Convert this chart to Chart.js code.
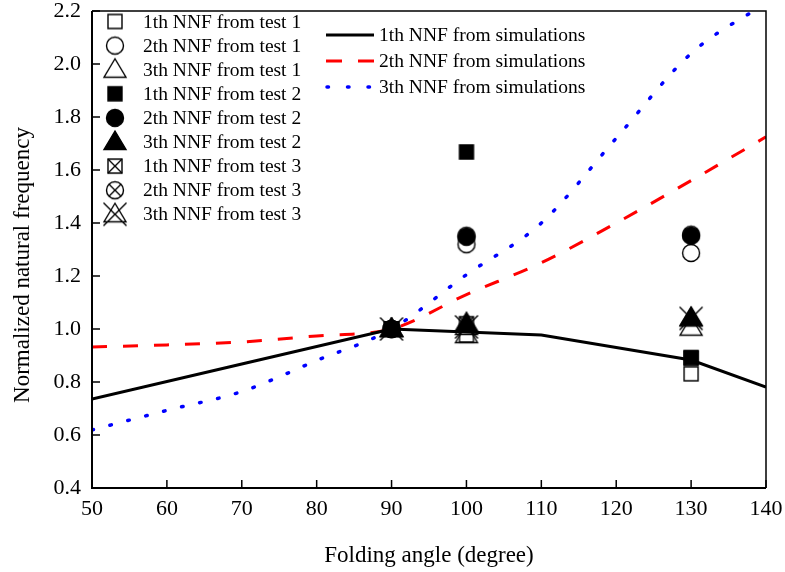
<!DOCTYPE html>
<html>
<head>
<meta charset="utf-8">
<script src="https://cdn.jsdelivr.net/npm/chart.js@4.4.0/dist/chart.umd.min.js"></script>
<style>
  html, body { margin: 0; padding: 0; background: #fff; }
  #wrap { width: 785px; height: 572px; }
</style>
</head>
<body>
<div id="wrap"><canvas id="chart" width="785" height="572"></canvas></div>
<script>
// Normalized natural frequency vs folding angle

const FONT = 'Liberation Serif, "Times New Roman", serif';

// simulation curves
const sim1Angles = [50, 70, 90, 110, 130, 140];
const sim1Values = [0.736, 0.868, 1.0, 0.977, 0.883, 0.781];
const sim2Angles = [50, 60, 70, 80, 90, 100, 110, 120, 130, 140];
const sim2Values = [0.932, 0.94, 0.951, 0.974, 1.0, 1.13, 1.25, 1.40, 1.56, 1.725];
const sim3Angles = [50, 60, 70, 80, 90, 100, 110, 120, 130, 140];
const sim3Values = [0.619, 0.693, 0.764, 0.881, 1.0, 1.205, 1.40, 1.72, 2.04, 2.23];

// test measurements
const testAngles = [90, 100, 130];
const test1First = [1.0, 0.977, 0.831];
const test1Second = [1.0, 1.32, 1.287];
const test1Third = [1.0, 0.977, 1.005];
const test2First = [1.0, 1.668, 0.892];
const test2Second = [1.0, 1.348, 1.352];
const test2Third = [1.0, 1.022, 1.042];
const test3First = [1.0, 1.02, 0.89];
const test3Second = [1.0, 1.352, 1.356];
const test3Third = [1.0, 1.008, 1.04];

const xTicks = [50, 60, 70, 80, 90, 100, 110, 120, 130, 140];
const yTicks = [0.4, 0.6, 0.8, 1.0, 1.2, 1.4, 1.6, 1.8, 2.0, 2.2];

const yTitle = 'Normalized natural frequency';

function toPoints(xs, ys) {
  return xs.map((x, i) => ({ x: x, y: ys[i] }));
}

// draw marker symbols on small canvases, used as pointStyle
function makeMarker(shape, filled, crossed) {
  const c = document.createElement('canvas');
  c.width = 30;
  c.height = 30;
  const g = c.getContext('2d');
  g.translate(15, 15);
  g.strokeStyle = '#000';
  g.fillStyle = '#000';
  g.lineWidth = 1.4;
  g.beginPath();
  if (shape === 'square') {
    g.rect(-7, -7, 14, 14);
  } else if (shape === 'circle') {
    g.arc(0, 0, 8.5, 0, Math.PI * 2);
  } else {
    g.moveTo(0, -11);
    g.lineTo(11, 7.5);
    g.lineTo(-11, 7.5);
    g.closePath();
  }
  if (filled) g.fill();
  g.stroke();
  if (crossed) {
    const d = shape === 'square' ? 7 : shape === 'circle' ? 6 : 11.5;
    g.beginPath();
    g.moveTo(-d, -d); g.lineTo(d, d);
    g.moveTo(d, -d); g.lineTo(-d, d);
    g.stroke();
  }
  return c;
}

const markers = {
  sqOpen: makeMarker('square', false, false),
  ciOpen: makeMarker('circle', false, false),
  trOpen: makeMarker('triangle', false, false),
  sqFill: makeMarker('square', true, false),
  ciFill: makeMarker('circle', true, false),
  trFill: makeMarker('triangle', true, false),
  sqCross: makeMarker('square', false, true),
  ciCross: makeMarker('circle', false, true),
  trCross: makeMarker('triangle', false, true)
};

function testSet(label, values, marker, order) {
  return {
    label: label,
    data: toPoints(testAngles, values),
    pointStyle: marker,
    showLine: false,
    order: order
  };
}

const datasets = [
  testSet('1th NNF from test 1', test1First, markers.sqOpen, 4),
  testSet('2th NNF from test 1', test1Second, markers.ciOpen, 4),
  testSet('3th NNF from test 1', test1Third, markers.trOpen, 4),
  testSet('1th NNF from test 2', test2First, markers.sqFill, 2),
  testSet('2th NNF from test 2', test2Second, markers.ciFill, 2),
  testSet('3th NNF from test 2', test2Third, markers.trFill, 2),
  testSet('1th NNF from test 3', test3First, markers.sqCross, 3),
  testSet('2th NNF from test 3', test3Second, markers.ciCross, 3),
  testSet('3th NNF from test 3', test3Third, markers.trCross, 3),
  {
    label: '1th NNF from simulations',
    data: toPoints(sim1Angles, sim1Values),
    showLine: true,
    borderColor: '#000',
    borderWidth: 3,
    pointRadius: 0,
    tension: 0,
    order: 10
  },
  {
    label: '2th NNF from simulations',
    data: toPoints(sim2Angles, sim2Values),
    showLine: true,
    borderColor: '#ff0000',
    borderWidth: 3,
    borderDash: [15, 16],
    pointRadius: 0,
    cubicInterpolationMode: 'monotone',
    order: 10
  },
  {
    label: '3th NNF from simulations',
    data: toPoints(sim3Angles, sim3Values),
    showLine: true,
    borderColor: '#0000ff',
    borderWidth: 3.5,
    borderDash: [1.5, 17],
    borderCapStyle: 'round',
    pointRadius: 0,
    cubicInterpolationMode: 'monotone',
    order: 10
  }
];

// box frame + inward tick marks + y title
const frameAndTicks = {
  id: 'frameAndTicks',
  afterDatasetsDraw(chart) {
    const { ctx, chartArea: a, scales } = chart;
    ctx.save();
    ctx.strokeStyle = '#000';
    ctx.lineWidth = 1.5;
    ctx.beginPath();
    ctx.moveTo(a.left, a.top);
    ctx.lineTo(a.right, a.top);
    ctx.lineTo(a.right, a.bottom);
    ctx.stroke();
    ctx.lineWidth = 2;
    ctx.beginPath();
    ctx.moveTo(a.left, a.top);
    ctx.lineTo(a.left, a.bottom);
    ctx.lineTo(a.right, a.bottom);
    ctx.stroke();
    ctx.lineWidth = 1.5;
    ctx.beginPath();
    xTicks.forEach(v => {
      const px = scales.x.getPixelForValue(v);
      ctx.moveTo(px, a.bottom);
      ctx.lineTo(px, a.bottom - 8);
    });
    yTicks.forEach(v => {
      const py = scales.y.getPixelForValue(v);
      ctx.moveTo(a.left, py);
      ctx.lineTo(a.left + 8, py);
    });
    ctx.stroke();

    // y axis title, sits a bit below the plot centre in the original
    ctx.translate(23, 265);
    ctx.rotate(-Math.PI / 2);
    ctx.font = '23px ' + FONT;
    ctx.fillStyle = '#000';
    ctx.textAlign = 'center';
    ctx.textBaseline = 'middle';
    ctx.fillText(yTitle, 0, 0);
    ctx.restore();
  }
};

// two legend blocks inside the plot
const legendBoxes = {
  id: 'legendBoxes',
  afterDraw(chart) {
    const ctx = chart.ctx;
    ctx.save();
    ctx.font = '19.5px ' + FONT;
    ctx.fillStyle = '#000';
    ctx.textBaseline = 'middle';
    ctx.textAlign = 'left';
    for (let i = 0; i < 9; i++) {
      const ds = chart.data.datasets[i];
      const cy = 21.5 + i * 24.1;
      ctx.drawImage(ds.pointStyle, 115 - 15, cy - 15);
      ctx.fillText(ds.label, 143, cy + 1);
    }
    for (let i = 0; i < 3; i++) {
      const ds = chart.data.datasets[9 + i];
      const cy = 35 + i * 26;
      ctx.beginPath();
      ctx.strokeStyle = ds.borderColor;
      ctx.lineWidth = ds.borderWidth;
      ctx.lineCap = ds.borderCapStyle || 'butt';
      ctx.setLineDash(i === 0 ? [] : i === 1 ? [16, 16] : [1.5, 19]);
      ctx.moveTo(i === 2 ? 327 : 326, cy);
      ctx.lineTo(374, cy);
      ctx.stroke();
      ctx.fillText(ds.label, 379, cy + 1);
    }
    ctx.restore();
  }
};

new Chart(document.getElementById('chart'), {
  type: 'scatter',
  data: { datasets: datasets },
  options: {
    responsive: false,
    animation: false,
    layout: { padding: { top: 11, right: 19, left: 0, bottom: 0 } },
    plugins: {
      legend: { display: false },
      tooltip: { enabled: false }
    },
    scales: {
      x: {
        type: 'linear',
        min: 50,
        max: 140,
        grid: { display: false, drawTicks: false },
        border: { display: false },
        ticks: {
          stepSize: 10,
          padding: 8,
          color: '#000',
          font: { family: FONT, size: 22 }
        },
        title: {
          display: true,
          text: 'Folding angle (degree)',
          color: '#000',
          font: { family: FONT, size: 23 },
          padding: { top: 0, bottom: 2 }
        },
        afterFit(scale) {
          scale.height = 84;
          scale.paddingLeft = 0;
          scale.paddingRight = 0;
        }
      },
      y: {
        type: 'linear',
        min: 0.4,
        max: 2.2,
        grid: { display: false, drawTicks: false },
        border: { display: false },
        ticks: {
          stepSize: 0.2,
          padding: 11,
          color: '#000',
          font: { family: FONT, size: 22 },
          callback: v => Number(v).toFixed(1)
        },
        title: { display: false },
        afterFit(scale) {
          scale.width = 92;
          scale.paddingTop = 0;
          scale.paddingBottom = 0;
        }
      }
    }
  },
  plugins: [frameAndTicks, legendBoxes]
});
</script>
</body>
</html>
